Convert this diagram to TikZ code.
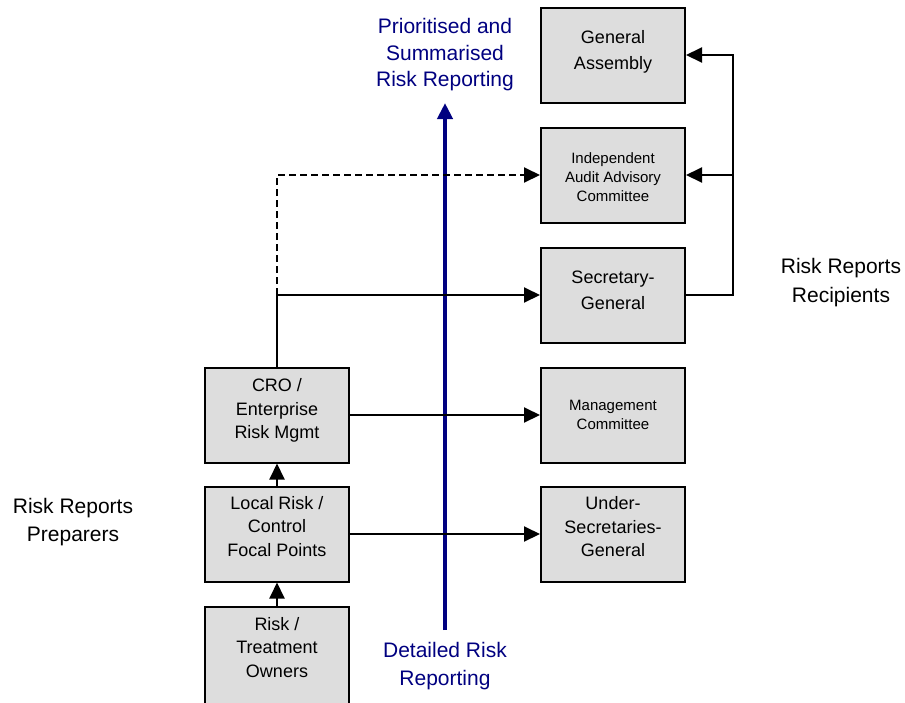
\documentclass[tikz,border=0pt]{standalone}
\usepackage{fontspec}
\setmainfont{Liberation Sans}
\usetikzlibrary{arrows.meta}
\definecolor{boxgray}{RGB}{221,221,221}
\definecolor{navyblue}{RGB}{0,0,128}
\begin{document}
\begin{tikzpicture}[x=1pt,y=-1pt,
  box/.style={draw=black, fill=boxgray, line width=2pt, minimum width=144pt, minimum height=95pt, inner sep=0pt},
  boxtext/.style={align=center, inner sep=0pt},
  bigtxt/.style={font=\fontsize{18}{23.5}\selectfont},
  bigtxtw/.style={font=\fontsize{18}{25.5}\selectfont},
  smalltxt/.style={font=\fontsize{15}{19}\selectfont},
  lbl/.style={align=center, font=\fontsize{21}{28.5}\selectfont},
  toplbl/.style={align=center, font=\fontsize{21}{26.5}\selectfont},
  plainline/.style={line width=2pt},
  conn/.style={line width=2pt, -{Triangle[length=16pt,width=15pt]}},
  dashconn/.style={conn, dash pattern=on 7pt off 4pt},
  bluearrow/.style={line width=4pt, draw=navyblue, -{Triangle[length=16pt,width=15pt]}}]
\path[use as bounding box] (0,0) rectangle (905,702);
\clip (0,0) rectangle (905,702);
% right column
\node[box] (ga) at (613,55) {};
\node[boxtext, bigtxtw, yshift=3pt] (gat) at (ga.center) {General\\Assembly};
\node[box] (iaac) at (613,175) {};
\node[boxtext, smalltxt, yshift=-2pt] (iaact) at (iaac.center) {Independent\\Audit Advisory\\Committee};
\node[box] (sg) at (613,295) {};
\node[boxtext, bigtxtw, yshift=4.5pt] (sgt) at (sg.center) {Secretary-\\General};
\node[box] (mc) at (613,415) {};
\node[boxtext, smalltxt] (mct) at (mc.center) {Management\\Committee};
\node[box] (usg) at (613,534) {};
\node[boxtext, bigtxt, yshift=7pt] (usgt) at (usg.center) {Under-\\Secretaries-\\General};
% left column
\node[box] (cro) at (277,415) {};
\node[boxtext, bigtxt, yshift=4.5pt] (crot) at (cro.center) {CRO /\\Enterprise\\Risk Mgmt};
\node[box] (loc) at (277,534) {};
\node[boxtext, bigtxt, yshift=7.5pt] (loct) at (loc.center) {Local Risk /\\Control\\Focal Points};
\node[box, minimum height=105pt] (own) at (277,659.5) {};
\node[boxtext, bigtxt, yshift=7pt] (ownt) at (277,654.5) {Risk /\\Treatment\\Owners};
% labels
\node[toplbl, text=navyblue] (top) at (445,55) {Prioritised and\\Summarised\\Risk Reporting};
\node[lbl, text=navyblue] (bot) at (445,666) {Detailed Risk\\Reporting};
\node[lbl] (prep) at (73,522) {Risk Reports\\Preparers};
\node[lbl] (recip) at (841,282.5) {Risk Reports\\Recipients};
% blue arrow
\coordinate (bb) at (445,630);
\coordinate (bt) at (445,103);
\draw[bluearrow] (bb) -- (bt);
% connectors
\coordinate (r) at (733,0);
\draw[conn] (own.north) -- (loc.south);
\draw[conn] (loc.north) -- (cro.south);
\draw[plainline] (cro.north) -- (cro.north |- sg.west);
\draw[conn] (cro.north |- sg.west) -- (sg.west);
\draw[dashconn] (cro.north |- sg.west) -- (cro.north |- iaac.west) -- (iaac.west);
\draw[conn] (cro.east) -- (mc.west);
\draw[conn] (loc.east) -- (usg.west);
\draw[conn] (sg.east) -- (sg.east -| r) |- (ga.east);
\draw[conn] (iaac.east -| r) -- (iaac.east);
\end{tikzpicture}
\end{document}
